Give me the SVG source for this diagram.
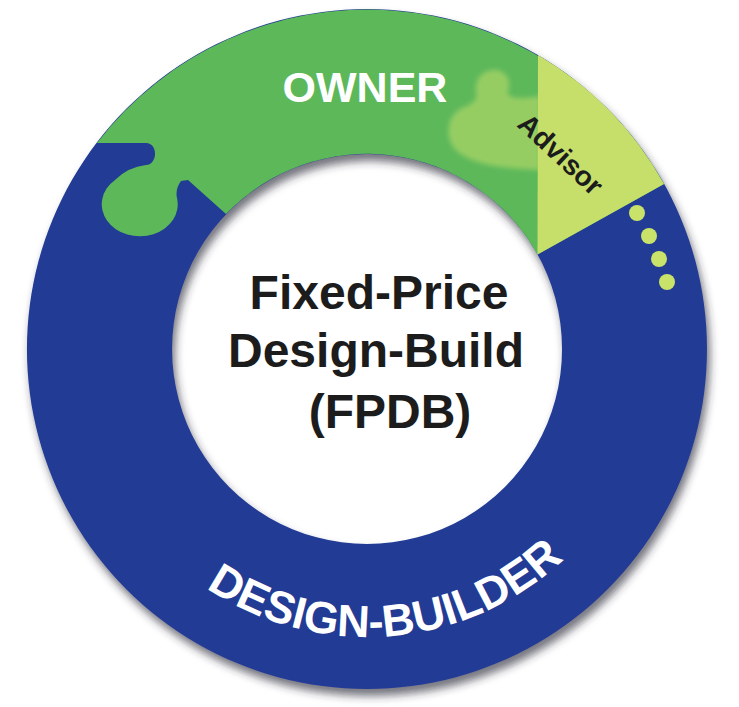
<svg xmlns="http://www.w3.org/2000/svg" width="739" height="707" viewBox="0 0 739 707">
  <style>
    .lbl { font-family: "Liberation Sans", Arial, sans-serif; font-weight: bold; }
    .white { fill: #ffffff; }
    .dark { fill: #1c1c1c; }
    .dot { fill: #c8e26a; }
  </style>
  <defs>
    <filter id="shadow" x="-10%" y="-10%" width="120%" height="120%">
      <feDropShadow dx="3" dy="7" stdDeviation="4" flood-color="#2a2a3a" flood-opacity="0.65"/>
    </filter>
    <filter id="soft" x="-20%" y="-20%" width="140%" height="140%">
      <feGaussianBlur stdDeviation="2.5"/>
    </filter>
    <path id="arcText" d="M 129.9,512.5 A 288 288 0 0 0 627.2,472.5"/>
  </defs>
  <rect width="739" height="707" fill="#ffffff"/>
  <g id="ring" filter="url(#shadow)">
    <g id="design-builder">
      <path fill="#213a94" fill-rule="evenodd" d="M 367,9 A 340 340 0 1 1 366.9,9 Z M 367,154 A 195 195 0 1 0 367.1,154 Z"/>
    </g>
    <g id="owner">
      <path fill="#5db85a" d="M 226,214 L 188,180 L 181,181 Q 175,189 177,198 A 38 32 0 1 1 115,180 Q 128,167 146,165 C 158,164 158,143 146,143 L 97,143 A 340 340 0 0 1 664,184 L 537.5,254.5 A 195 195 0 0 0 226,214 Z"/>
    </g>
    <g id="advisor">
      <path fill="#bcdc6a" opacity="0.6" filter="url(#soft)" d="M 540,170 C 500,168 475,165 458,152 C 442,138 448,114 462,108 C 472,104 478,100 476,92 C 474,78 484,70 494,70 C 506,70 512,80 508,92 C 506,98 520,100 540,96 Z"/>
      <path fill="#c6df6a" d="M 538,55 A 340 340 0 0 1 664,184 L 537.5,254.5 Z"/>
    </g>
  </g>
  <g id="labels">
    <text class="lbl white" x="365" y="102" font-size="43" text-anchor="middle">OWNER</text>
    <text class="lbl dark" font-size="28" text-anchor="middle" transform="translate(561,154) rotate(43)" y="10">Advisor</text>
    <text class="lbl white" font-size="45" text-anchor="middle"><textPath href="#arcText" startOffset="50%">DESIGN-BUILDER</textPath></text>
  </g>
  <g id="dots">
    <circle class="dot" cx="637" cy="213" r="8"/>
    <circle class="dot" cx="649" cy="236" r="8"/>
    <circle class="dot" cx="659" cy="259" r="8"/>
    <circle class="dot" cx="667" cy="282" r="8"/>
  </g>
  <g id="center-label">
    <text class="lbl dark" font-size="48" x="379" y="309" text-anchor="middle">Fixed-Price</text>
    <text class="lbl dark" font-size="48" x="376" y="367" text-anchor="middle">Design-Build</text>
    <text class="lbl dark" font-size="48" x="390" y="428" text-anchor="middle">(FPDB)</text>
  </g>
  <g id="connectors"/>
</svg>
